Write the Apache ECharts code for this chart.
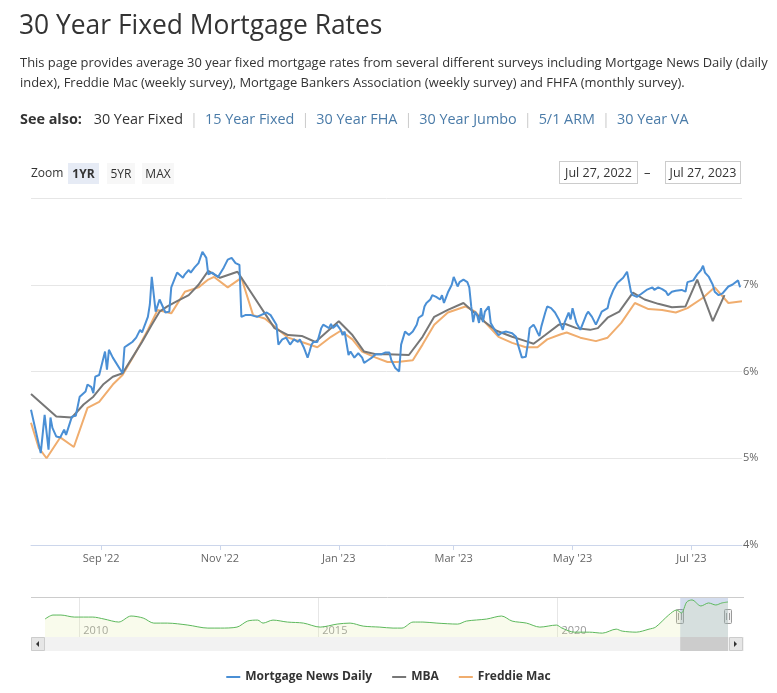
<!DOCTYPE html>
<html>
<head>
<meta charset="utf-8">
<script src="https://cdn.jsdelivr.net/npm/echarts@6/dist/echarts.min.js"></script>
<style>
  html, body { margin:0; padding:0; background:#fff; }
  body { width:777px; height:693px; position:relative; overflow:hidden; font-family:"Open Sans", "Noto Sans", sans-serif; color:#333; }
  #chart { position:absolute; left:0; top:0; width:777px; height:693px; }
  .abs { position:absolute; z-index:2; white-space:nowrap; }
  #title { left:19px; top:5px; font-size:26.4px; line-height:38px; color:#333; }
  #desc { left:20px; top:52px; font-size:12.95px; line-height:20px; color:#333; }
  #see { left:20px; top:108px; font-size:14.4px; line-height:22px; color:#333; }
  #see b { font-weight:700; margin-right:8px; }
  #see .lnk { color:#4a7ba8; }
  #see .sep { color:#ccc; margin:0 7px; }
  #zoomlbl { left:31px; top:164px; font-size:12px; line-height:18px; color:#333; }
  .btn { top:163px; height:21px; line-height:21px; font-size:12px; text-align:center; color:#333; background:#f7f7f7; }
  .btn.sel { background:#e6ebf5; font-weight:700; }
  .date { top:161px; height:21px; line-height:21px; border:1px solid #ccc; font-size:12.5px; text-align:center; color:#333; background:#fff; }
  #dash { left:644px; top:162px; font-size:13px; line-height:21px; color:#333; }
</style>
</head>
<body>
<div id="chart"></div>
<div class="abs" id="title">30 Year Fixed Mortgage Rates</div>
<div class="abs" id="desc">This page provides average 30 year fixed mortgage rates from several different surveys including Mortgage News Daily (daily<br>index), Freddie Mac (weekly survey), Mortgage Bankers Association (weekly survey) and FHFA (monthly survey).</div>
<div class="abs" id="see"><b>See also:</b> 30 Year Fixed<span class="sep">|</span><span class="lnk">15 Year Fixed</span><span class="sep">|</span><span class="lnk">30 Year FHA</span><span class="sep">|</span><span class="lnk">30 Year Jumbo</span><span class="sep">|</span><span class="lnk">5/1 ARM</span><span class="sep">|</span><span class="lnk">30 Year VA</span></div>
<div class="abs" id="zoomlbl">Zoom</div>
<div class="abs btn sel" style="left:68px;width:31px;">1YR</div>
<div class="abs btn" style="left:107px;width:28px;">5YR</div>
<div class="abs btn" style="left:142px;width:32px;">MAX</div>
<div class="abs date" style="left:559px;width:77px;">Jul 27, 2022</div>
<div class="abs" id="dash">–</div>
<div class="abs date" style="left:665px;width:74px;">Jul 27, 2023</div>
<script>
// ---------------- data ----------------
const seriesNames = ['Mortgage News Daily', 'MBA', 'Freddie Mac'];

const mortgageNewsDaily = [
['2022-07-27',5.56],['2022-08-01',5.06],['2022-08-03',5.50],['2022-08-05',5.10],['2022-08-06',5.47],
['2022-08-07',5.35],['2022-08-09',5.25],['2022-08-11',5.24],['2022-08-13',5.33],['2022-08-14',5.27],
['2022-08-17',5.48],['2022-08-19',5.49],['2022-08-21',5.71],['2022-08-24',5.77],['2022-08-25',5.85],
['2022-08-27',5.82],['2022-08-28',5.75],['2022-08-29',5.94],['2022-08-31',5.96],['2022-09-01',5.98],
['2022-09-03',6.23],['2022-09-04',6.02],['2022-09-05',6.25],['2022-09-07',6.16],['2022-09-12',5.98],
['2022-09-13',6.28],['2022-09-15',6.31],['2022-09-17',6.34],['2022-09-19',6.39],['2022-09-21',6.48],
['2022-09-22',6.45],['2022-09-25',6.63],['2022-09-26',6.77],['2022-09-27',7.09],['2022-09-29',6.69],
['2022-10-01',6.83],['2022-10-04',6.68],['2022-10-06',6.69],['2022-10-07',6.97],['2022-10-10',7.14],
['2022-10-13',7.08],['2022-10-14',7.12],['2022-10-16',7.17],['2022-10-17',7.14],['2022-10-19',7.20],
['2022-10-21',7.25],['2022-10-23',7.38],['2022-10-25',7.31],['2022-10-26',7.12],['2022-10-28',7.14],
['2022-10-31',7.09],['2022-11-03',7.20],['2022-11-05',7.29],['2022-11-07',7.31],['2022-11-09',7.25],
['2022-11-10',7.23],['2022-11-11',7.23],['2022-11-12',6.63],['2022-11-14',6.65],['2022-11-15',6.63],
['2022-11-17',6.65],['2022-11-20',6.63],['2022-11-22',6.65],['2022-11-23',6.63],['2022-11-25',6.68],
['2022-11-27',6.65],['2022-11-28',6.63],['2022-11-30',6.54],['2022-12-01',6.31],['2022-12-03',6.37],
['2022-12-04',6.35],['2022-12-05',6.39],['2022-12-07',6.31],['2022-12-09',6.37],['2022-12-11',6.34],
['2022-12-12',6.37],['2022-12-14',6.28],['2022-12-16',6.16],['2022-12-17',6.23],['2022-12-18',6.31],
['2022-12-19',6.34],['2022-12-21',6.34],['2022-12-23',6.50],['2022-12-24',6.54],['2022-12-27',6.50],
['2022-12-28',6.55],['2022-12-29',6.50],['2022-12-31',6.54],['2023-01-02',6.48],['2023-01-03',6.42],
['2023-01-04',6.46],['2023-01-06',6.19],['2023-01-07',6.23],['2023-01-09',6.16],['2023-01-11',6.21],
['2023-01-13',6.16],['2023-01-14',6.10],['2023-01-16',6.13],['2023-01-18',6.16],['2023-01-20',6.20],
['2023-01-23',6.20],['2023-01-25',6.22],['2023-01-27',6.22],['2023-01-28',6.13],['2023-01-30',6.04],
['2023-02-01',6.00],['2023-02-02',6.31],['2023-02-04',6.46],['2023-02-06',6.42],['2023-02-08',6.46],
['2023-02-10',6.54],['2023-02-11',6.62],['2023-02-13',6.65],['2023-02-14',6.75],['2023-02-15',6.79],
['2023-02-17',6.83],['2023-02-18',6.88],['2023-02-20',6.86],['2023-02-22',6.83],['2023-02-23',6.88],
['2023-02-24',6.79],['2023-02-26',6.91],['2023-02-28',7.00],['2023-03-01',7.09],['2023-03-03',6.98],
['2023-03-04',7.03],['2023-03-06',7.06],['2023-03-08',7.03],['2023-03-09',6.97],['2023-03-10',6.75],
['2023-03-11',6.57],['2023-03-12',6.69],['2023-03-13',6.65],['2023-03-14',6.56],['2023-03-15',6.73],
['2023-03-16',6.57],['2023-03-17',6.69],['2023-03-19',6.75],['2023-03-20',6.56],['2023-03-22',6.48],
['2023-03-24',6.42],['2023-03-26',6.45],['2023-03-28',6.46],['2023-03-29',6.45],['2023-03-31',6.44],
['2023-04-02',6.40],['2023-04-03',6.31],['2023-04-05',6.16],['2023-04-07',6.17],['2023-04-08',6.31],
['2023-04-09',6.50],['2023-04-11',6.54],['2023-04-12',6.50],['2023-04-13',6.45],['2023-04-14',6.41],
['2023-04-15',6.52],['2023-04-17',6.68],['2023-04-18',6.75],['2023-04-20',6.73],['2023-04-22',6.68],
['2023-04-24',6.60],['2023-04-26',6.48],['2023-04-27',6.57],['2023-04-29',6.68],['2023-04-30',6.60],
['2023-05-01',6.73],['2023-05-03',6.56],['2023-05-05',6.48],['2023-05-06',6.46],['2023-05-08',6.65],
['2023-05-09',6.69],['2023-05-11',6.63],['2023-05-13',6.54],['2023-05-14',6.52],['2023-05-16',6.69],
['2023-05-17',6.71],['2023-05-19',6.73],['2023-05-20',6.83],['2023-05-22',6.94],['2023-05-24',7.02],
['2023-05-25',7.03],['2023-05-27',7.08],['2023-05-29',7.15],['2023-05-31',6.92],['2023-06-01',6.88],
['2023-06-03',6.86],['2023-06-05',6.89],['2023-06-06',6.91],['2023-06-08',6.94],['2023-06-09',6.92],
['2023-06-11',6.97],['2023-06-12',6.94],['2023-06-14',6.97],['2023-06-16',6.95],['2023-06-18',6.92],
['2023-06-19',6.88],['2023-06-21',6.92],['2023-06-23',6.93],['2023-06-24',6.92],['2023-06-26',6.94],
['2023-06-28',6.92],['2023-06-29',7.03],['2023-06-30',7.01],['2023-07-02',7.05],['2023-07-04',7.12],
['2023-07-06',7.17],['2023-07-07',7.22],['2023-07-08',7.14],['2023-07-10',7.09],['2023-07-12',7.00],
['2023-07-13',6.92],['2023-07-15',6.88],['2023-07-17',6.90],['2023-07-18',6.92],['2023-07-20',6.98],
['2023-07-22',7.00],['2023-07-23',6.98],['2023-07-25',7.05],['2023-07-26',6.97]
];

const mba = [
['2022-07-27',5.74],['2022-08-09',5.48],['2022-08-17',5.47],['2022-08-23',5.62],['2022-08-28',5.71],
['2022-09-02',5.85],['2022-09-07',5.94],['2022-09-12',5.98],['2022-09-17',6.16],['2022-09-22',6.34],
['2022-09-27',6.54],['2022-10-01',6.69],['2022-10-05',6.75],['2022-10-10',6.81],['2022-10-16',6.88],
['2022-10-21',7.00],['2022-10-26',7.16],['2022-11-01',7.08],['2022-11-10',7.15],['2022-11-29',6.50],
['2022-12-06',6.42],['2022-12-13',6.41],['2022-12-20',6.34],['2023-01-01',6.58],['2023-01-08',6.42],
['2023-01-14',6.23],['2023-01-20',6.20],['2023-01-26',6.20],['2023-02-06',6.19],['2023-02-13',6.40],
['2023-02-19',6.63],['2023-02-26',6.71],['2023-03-06',6.79],['2023-03-17',6.57],['2023-03-23',6.47],
['2023-03-31',6.40],['2023-04-07',6.35],['2023-04-11',6.32],['2023-04-17',6.42],['2023-04-24',6.54],
['2023-04-27',6.55],['2023-05-03',6.50],['2023-05-10',6.48],['2023-05-14',6.50],['2023-05-19',6.62],
['2023-05-25',6.69],['2023-06-01',6.91],['2023-06-07',6.83],['2023-06-14',6.78],['2023-06-21',6.74],
['2023-06-28',6.75],['2023-07-04',7.06],['2023-07-12',6.58],['2023-07-18',6.88]
];

const freddieMac = [
['2022-07-27',5.41],['2022-07-31',5.12],['2022-08-04',5.00],['2022-08-11',5.24],['2022-08-18',5.13],
['2022-08-25',5.58],['2022-08-31',5.65],['2022-09-07',5.85],['2022-09-12',5.96],['2022-09-18',6.19],
['2022-09-25',6.48],['2022-09-30',6.71],['2022-10-07',6.67],['2022-10-14',6.92],['2022-10-21',6.97],
['2022-10-26',7.06],['2022-10-29',7.09],['2022-11-05',6.97],['2022-11-12',7.08],['2022-11-18',6.65],
['2022-11-24',6.61],['2022-11-29',6.52],['2022-12-06',6.39],['2022-12-13',6.34],['2022-12-21',6.28],
['2022-12-28',6.40],['2023-01-02',6.47],['2023-01-08',6.37],['2023-01-13',6.23],['2023-01-20',6.16],
['2023-01-26',6.11],['2023-01-31',6.11],['2023-02-08',6.13],['2023-02-13',6.31],['2023-02-19',6.54],
['2023-02-26',6.68],['2023-03-07',6.75],['2023-03-12',6.69],['2023-03-17',6.57],['2023-03-24',6.40],
['2023-03-31',6.33],['2023-04-07',6.28],['2023-04-13',6.28],['2023-04-18',6.37],['2023-04-25',6.43],
['2023-04-28',6.45],['2023-05-05',6.39],['2023-05-13',6.35],['2023-05-19',6.39],['2023-05-26',6.56],
['2023-06-02',6.79],['2023-06-09',6.72],['2023-06-16',6.71],['2023-06-23',6.68],['2023-06-29',6.73],
['2023-07-07',6.85],['2023-07-13',6.97],['2023-07-20',6.79],['2023-07-27',6.81]
];

// navigator: long-run Mortgage News Daily history
const navigatorHistory = [
['2009-04-15',4.66],['2009-06-15',5.23],['2009-08-15',5.23],['2009-11-25',4.94],['2010-04-15',4.94],
['2010-07-10',4.66],['2010-10-30',4.23],['2011-02-01',5.09],['2011-05-05',4.80],['2011-07-25',4.08],
['2011-11-05',4.08],['2012-04-10',3.80],['2012-09-10',3.37],['2012-12-15',3.37],['2013-04-20',3.51],
['2013-07-10',4.37],['2013-09-25',4.51],['2013-11-05',4.08],['2014-01-20',4.51],['2014-05-10',4.23],
['2014-09-10',4.08],['2015-01-15',3.51],['2015-05-25',3.94],['2015-09-01',4.08],['2015-12-10',3.65],
['2016-04-15',3.51],['2016-07-25',3.37],['2016-10-01',3.37],['2016-12-25',4.23],['2017-03-10',4.23],
['2017-06-25',4.08],['2017-12-01',3.94],['2018-02-05',4.37],['2018-07-10',4.66],['2018-11-01',5.09],
['2019-01-20',4.37],['2019-05-10',4.08],['2019-08-20',3.51],['2019-12-25',3.80],['2020-02-05',3.37],
['2020-05-10',2.79],['2020-09-01',2.79],['2020-12-10',2.65],['2021-03-25',3.22],['2021-05-10',2.94],
['2021-08-25',2.79],['2021-12-01',3.22],['2022-01-20',3.51],['2022-04-30',5.23],['2022-06-30',5.95],
['2022-08-05',5.52],['2022-09-15',7.09],['2022-10-25',7.38],['2023-01-01',6.52],['2023-03-01',6.95],
['2023-04-25',6.66],['2023-06-10',6.95],['2023-07-27',7.09]
];

const selectedRange = ['2022-07-27', '2023-07-27'];
const navigatorRange = ['2009-04-15', '2023-07-27'];
const xTickDates = ['2022-09-01','2022-11-01','2023-01-01','2023-03-01','2023-05-01','2023-07-01'];
const navTickDates = ['2010-01-01','2015-01-01','2020-01-01'];
const yTicks = [4, 5, 6, 7, 8];
const monthNames = ['Jan','Feb','Mar','Apr','May','Jun','Jul','Aug','Sep','Oct','Nov','Dec'];

// ---------------- chart ----------------
const FONT = '"Open Sans", "Noto Sans", sans-serif';
const colors = ['#4a8fd5', '#777777', '#f0ad6e'];
const toTime = s => new Date(s + 'T00:00:00').getTime();
const toPoints = arr => arr.map(p => [toTime(p[0]), p[1]]);

const chart = echarts.init(document.getElementById('chart'), null, { renderer: 'canvas' });

const main = { left: 31, top: 198, width: 711, height: 347 };
const nav = { left: 45, top: 597, width: 683, height: 40 };

const option = {
  animation: false,
  textStyle: { fontFamily: FONT },
  color: colors,
  grid: [
    { left: main.left, top: main.top, width: main.width, height: main.height },
    { left: nav.left, top: nav.top, width: nav.width, height: nav.height }
  ],
  xAxis: [
    {
      type: 'value', gridIndex: 0, scale: true,
      min: toTime(selectedRange[0]), max: toTime(selectedRange[1]),
      axisLine: { lineStyle: { color: '#ccd6eb', width: 1 } },
      axisTick: { show: true, length: 5, lineStyle: { color: '#ccd6eb' }, customValues: xTickDates.map(toTime) },
      axisLabel: {
        customValues: xTickDates.map(toTime),
        color: '#666', fontSize: 11, fontFamily: FONT, margin: 8,
        formatter: v => { const d = new Date(v); return monthNames[d.getMonth()] + " '" + String(d.getFullYear()).slice(2); }
      },
      splitLine: { show: false }
    },
    {
      type: 'value', gridIndex: 1, scale: true,
      min: toTime(navigatorRange[0]), max: toTime(navigatorRange[1]),
      axisLine: { show: false },
      axisTick: { show: false, customValues: navTickDates.map(toTime) },
      axisLabel: {
        customValues: navTickDates.map(toTime),
        inside: true, align: 'left', margin: 1, padding: [0, 0, 0, 4],
        color: '#999', fontSize: 11, fontFamily: FONT,
        formatter: v => String(new Date(v).getFullYear())
      },
      splitLine: { show: true, lineStyle: { color: '#e6e6e6', width: 1 } }
    }
  ],
  yAxis: [
    {
      type: 'value', gridIndex: 0, position: 'right',
      min: yTicks[0], max: yTicks[yTicks.length - 1], interval: 1,
      axisLine: { show: false }, axisTick: { show: false },
      axisLabel: {
        showMaxLabel: false, margin: 1, color: '#666', fontSize: 11, fontFamily: FONT,
        verticalAlign: 'middle', padding: [0, 0, 8, 0],
        formatter: v => v + '%'
      },
      splitLine: { show: true, lineStyle: { color: '#e6e6e6', width: 1 } }
    },
    {
      type: 'value', gridIndex: 1, min: 2.1, max: 7.8, show: false,
      splitLine: { show: false }
    }
  ],
  legend: {
    data: seriesNames, left: 'center', top: 666,
    icon: 'rect', itemWidth: 14, itemHeight: 2, itemGap: 20,
    textStyle: { color: '#333', fontSize: 12, fontWeight: 'bold', fontFamily: FONT }
  },
  series: [
    { name: seriesNames[0], type: 'line', data: toPoints(mortgageNewsDaily), showSymbol: false, lineStyle: { width: 2, color: colors[0] }, itemStyle: { color: colors[0] }, z: 4 },
    { name: seriesNames[1], type: 'line', data: toPoints(mba), showSymbol: false, lineStyle: { width: 2, color: colors[1] }, itemStyle: { color: colors[1] }, z: 3 },
    { name: seriesNames[2], type: 'line', data: toPoints(freddieMac), showSymbol: false, lineStyle: { width: 2, color: colors[2] }, itemStyle: { color: colors[2] }, z: 2 },
    {
      name: 'navigator', type: 'line', xAxisIndex: 1, yAxisIndex: 1, data: toPoints(navigatorHistory),
      showSymbol: false, smooth: 0.3, silent: true,
      lineStyle: { width: 1, color: '#5cb85c' },
      areaStyle: { color: 'rgba(222,235,160,0.28)' }, z: 2
    },
    {
      name: 'mask', type: 'line', xAxisIndex: 1, yAxisIndex: 1, data: [], silent: true, z: 6,
      markArea: {
        silent: true,
        itemStyle: { color: 'rgba(102,133,194,0.28)' },
        data: [[{ xAxis: toTime(selectedRange[0]) }, { xAxis: toTime(selectedRange[1]) }]]
      }
    }
  ]
};
chart.setOption(option);

// navigator decorations (outline, handles, scrollbar) placed via the navigator axis scale
const x0 = chart.convertToPixel({ xAxisIndex: 1 }, toTime(selectedRange[0]));
const x1 = chart.convertToPixel({ xAxisIndex: 1 }, toTime(selectedRange[1]));
const sbTop = nav.top + nav.height, sbH = 14;
const outerL = main.left, outerR = nav.left + nav.width + 16;
function handle(x) {
  const r = Math.round(x);
  return {
    type: 'group', children: [
      { type: 'rect', shape: { x: r - 3.5, y: 609.5, width: 7, height: 14, r: 1 }, style: { fill: '#f2f2f2', stroke: '#999', lineWidth: 1 } },
      { type: 'line', shape: { x1: r - 1.5, y1: 613, x2: r - 1.5, y2: 620 }, style: { stroke: '#999', lineWidth: 1 } },
      { type: 'line', shape: { x1: r + 1.5, y1: 613, x2: r + 1.5, y2: 620 }, style: { stroke: '#999', lineWidth: 1 } }
    ]
  };
}
const grip = [];
const cx = Math.round((x0 + x1) / 2);
for (let i = -1; i <= 1; i++) {
  grip.push({ type: 'line', shape: { x1: cx + i * 3 + 0.5, y1: sbTop + 4, x2: cx + i * 3 + 0.5, y2: sbTop + 10 }, style: { stroke: '#333', lineWidth: 1 } });
}
chart.setOption({
  graphic: [
    { type: 'line', z: 10, shape: { x1: outerL, y1: nav.top + 0.5, x2: outerR, y2: nav.top + 0.5 }, style: { stroke: '#cccccc', lineWidth: 1 } },
    { type: 'rect', z: 9, shape: { x: outerL, y: sbTop, width: outerR - outerL, height: sbH }, style: { fill: '#f2f2f2' } },
    { type: 'rect', z: 10, shape: { x: outerL + 0.5, y: sbTop + 0.5, width: 13, height: sbH - 1 }, style: { fill: '#e6e6e6', stroke: '#cccccc', lineWidth: 1 } },
    { type: 'polygon', z: 11, shape: { points: [[outerL + 8, sbTop + 4], [outerL + 8, sbTop + 10], [outerL + 5, sbTop + 7]] }, style: { fill: '#333' } },
    { type: 'rect', z: 10, shape: { x: outerR - 14.5, y: sbTop + 0.5, width: 13, height: sbH - 1 }, style: { fill: '#e6e6e6', stroke: '#cccccc', lineWidth: 1 } },
    { type: 'polygon', z: 11, shape: { points: [[outerR - 10, sbTop + 4], [outerR - 10, sbTop + 10], [outerR - 7, sbTop + 7]] }, style: { fill: '#333' } },
    { type: 'rect', z: 10, shape: { x: x0, y: sbTop, width: x1 - x0, height: sbH }, style: { fill: '#cccccc' } },
    { type: 'group', z: 11, children: grip },
    Object.assign(handle(x0), { z: 12 }),
    Object.assign(handle(x1), { z: 12 })
  ]
});
</script>
</body>
</html>
